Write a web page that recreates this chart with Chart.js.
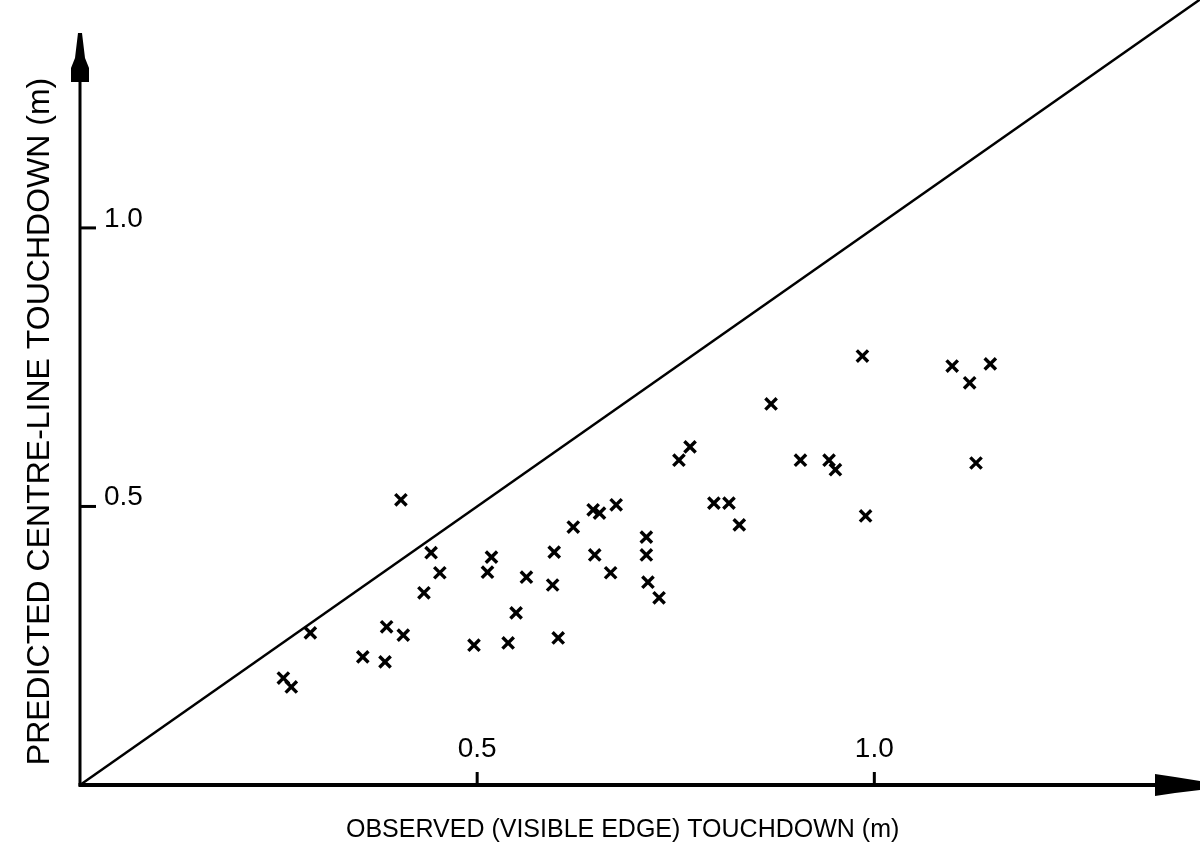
<!DOCTYPE html>
<html>
<head>
<meta charset="utf-8">
<script src="https://cdn.jsdelivr.net/npm/chart.js@4.4.1/dist/chart.umd.min.js"></script>
<style>
  html, body { margin: 0; padding: 0; background: #fff; }
  #wrap { width: 1200px; height: 847px; position: relative; }
</style>
</head>
<body>
<div id="wrap"><canvas id="c" width="1200" height="847"></canvas></div>
<script>
// ---- data ----
const observedX = [
  0.256, 0.266, 0.290, 0.356, 0.384, 0.386, 0.407, 0.404, 0.433, 0.442,
  0.453, 0.496, 0.513, 0.518, 0.539, 0.549, 0.562, 0.595, 0.597, 0.602,
  0.621, 0.646, 0.654, 0.675, 0.648, 0.668, 0.713, 0.713, 0.715, 0.729,
  0.754, 0.768, 0.798, 0.817, 0.830, 0.870, 0.907, 0.943, 0.951, 0.985,
  0.989, 1.098, 1.120, 1.146, 1.128
];
const predictedY = [
  0.192, 0.176, 0.273, 0.230, 0.221, 0.284, 0.269, 0.512, 0.345, 0.417,
  0.381, 0.251, 0.382, 0.409, 0.255, 0.309, 0.373, 0.359, 0.418, 0.264,
  0.463, 0.494, 0.488, 0.503, 0.413, 0.381, 0.445, 0.413, 0.364, 0.336,
  0.583, 0.607, 0.506, 0.506, 0.467, 0.684, 0.583, 0.583, 0.566, 0.770,
  0.483, 0.752, 0.722, 0.756, 0.578
];
const equalityLine = [0, 1.41];          // y = x reference line end values
const xTickValues = [0.5, 1.0];
const xTickLabels = ['0.5', '1.0'];
const yTickValues = [0.5, 1.0];
const yTickLabels = ['0.5', '1.0'];
const xTitle = 'OBSERVED (VISIBLE EDGE) TOUCHDOWN (m)\u00a0\u00a0\u00a0\u00a0\u00a0';
const yTitle = 'PREDICTED CENTRE-LINE TOUCHDOWN (m)';
const xRange = [0, 1.41];
const yRange = [0, 1.305];
const yAxisEnd = 1.35;

const FONT = "'Liberation Sans', Arial, Helvetica, sans-serif";

const axesDecor = {
  id: 'axesDecor',
  afterDatasetsDraw(chart) {
    const {ctx, scales: {x, y}} = chart;
    const x0 = x.getPixelForValue(0);
    const y0 = y.getPixelForValue(0);
    const yTop = y.getPixelForValue(yAxisEnd);
    const xEnd = x.getPixelForValue(xRange[1]);
    ctx.save();
    ctx.strokeStyle = '#000';
    ctx.fillStyle = '#000';
    ctx.lineCap = 'butt';
    // y axis
    ctx.lineWidth = 3;
    ctx.beginPath(); ctx.moveTo(x0, y0 + 1); ctx.lineTo(x0, yTop + 20); ctx.stroke();
    ctx.beginPath();
    ctx.moveTo(x0 - 2, yTop); ctx.lineTo(x0 + 2, yTop);
    ctx.lineTo(x0 + 5, yTop + 25); ctx.lineTo(x0 + 9, yTop + 35);
    ctx.lineTo(x0 + 9, yTop + 49); ctx.lineTo(x0 - 9, yTop + 49);
    ctx.lineTo(x0 - 9, yTop + 35); ctx.lineTo(x0 - 5, yTop + 25);
    ctx.closePath(); ctx.fill();
    // x axis
    ctx.lineWidth = 4;
    ctx.beginPath(); ctx.moveTo(x0 - 1.5, y0); ctx.lineTo(xEnd - 30, y0); ctx.stroke();
    ctx.beginPath();
    ctx.moveTo(xEnd - 45, y0 - 11); ctx.lineTo(xEnd - 25, y0 - 8);
    ctx.lineTo(xEnd, y0 - 4); ctx.lineTo(xEnd, y0 + 5);
    ctx.lineTo(xEnd - 25, y0 + 8); ctx.lineTo(xEnd - 45, y0 + 11);
    ctx.closePath(); ctx.fill();
    // ticks and labels
    ctx.lineWidth = 3;
    ctx.font = '28px ' + FONT;
    ctx.textBaseline = 'alphabetic';
    ctx.textAlign = 'center';
    xTickValues.forEach((v, i) => {
      const px = x.getPixelForValue(v);
      ctx.beginPath(); ctx.moveTo(px, y0); ctx.lineTo(px, y0 - 13); ctx.stroke();
      ctx.fillText(xTickLabels[i], px, y0 - 28);
    });
    ctx.textAlign = 'left';
    yTickValues.forEach((v, i) => {
      const py = y.getPixelForValue(v);
      ctx.beginPath(); ctx.moveTo(x0, py); ctx.lineTo(x0 + 16, py); ctx.stroke();
      ctx.fillText(yTickLabels[i], x0 + 24, py - 1);
    });
    ctx.restore();
  }
};

Chart.defaults.color = '#000';
Chart.defaults.font.family = FONT;

new Chart(document.getElementById('c'), {
  type: 'scatter',
  data: {
    datasets: [
      {
        label: 'observations',
        data: observedX.map((v, i) => ({x: v, y: predictedY[i]})),
        pointStyle: 'crossRot',
        pointRadius: 8,
        pointHoverRadius: 8,
        borderColor: '#000',
        backgroundColor: '#000',
        pointBorderWidth: 3.4,
        showLine: false
      },
      {
        label: 'y = x',
        type: 'line',
        data: equalityLine.map(v => ({x: v, y: v})),
        borderColor: '#000',
        borderWidth: 2.5,
        pointRadius: 0,
        fill: false,
        clip: false
      }
    ]
  },
  options: {
    responsive: false,
    animation: false,
    devicePixelRatio: 1,
    layout: { autoPadding: false, padding: { top: 58, right: 0, bottom: 0, left: 0 } },
    plugins: { legend: { display: false }, tooltip: { enabled: false } },
    scales: {
      x: {
        type: 'linear',
        min: xRange[0], max: xRange[1],
        grid: { display: false, drawTicks: false, tickLength: 0 },
        border: { display: false },
        ticks: { display: false, padding: 0 },
        title: {
          display: true, text: xTitle,
          font: { size: 25, family: FONT },
          padding: { top: 30, bottom: 2 }
        }
      },
      y: {
        type: 'linear',
        min: yRange[0], max: yRange[1],
        grid: { display: false, drawTicks: false, tickLength: 0 },
        border: { display: false },
        ticks: { display: false, padding: 0 },
        title: {
          display: true, text: yTitle,
          font: { size: 32, family: FONT },
          padding: { top: 20.8, bottom: 20.8 }
        }
      }
    }
  },
  plugins: [axesDecor]
});
</script>
</body>
</html>
